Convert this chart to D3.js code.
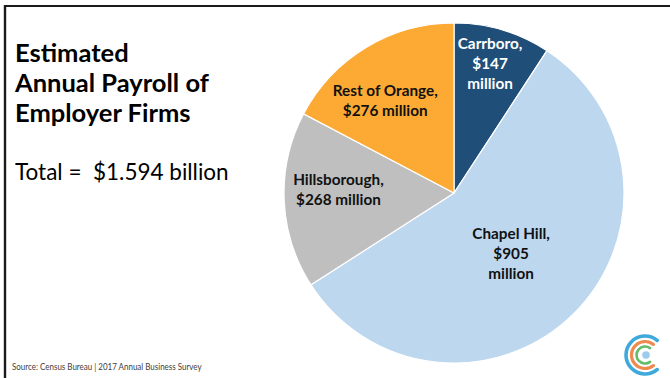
<!DOCTYPE html>
<html>
<head>
<meta charset="utf-8">
<script src="https://cdn.jsdelivr.net/npm/d3@7"></script>
<style>
  html, body { margin: 0; padding: 0; background: #fff; }
  svg { display: block; }
</style>
</head>
<body>
<svg id="chart" width="670" height="378"></svg>
<script>
// ---- data ----
const categories = ["Carrboro", "Chapel Hill", "Hillsborough", "Rest of Orange"];
const values = [147, 905, 268, 276];           // $ millions
const titleLines = ["Estimated", "Annual Payroll of", "Employer Firms"];
const totalText = "Total =\u00A0 $1.594 billion";
const sourceText = "Source: Census Bureau | 2017 Annual Business Survey";

// ---- styles / layout ----
const colors = ["#1F4E79", "#BDD7EE", "#BFBFBF", "#FCAA34"];
const labelColors = ["#ffffff", "#111111", "#111111", "#111111"];
const labelSplit = [true, true, false, false];       // value on its own lines
const labelLayout = [{r: 0.79, da: -1}, {r: 0.49, da: 1.5}, {r: 0.68, da: 4}, {r: 0.68, da: -5.4}];

const svg = d3.select("#chart");
const W = 670, H = 378;
const cx = 454, cy = 193, R = 170;
const FONT = "Lato, 'Open Sans', sans-serif";

// frame lines
svg.append("line").attr("x1", 4).attr("x2", W).attr("y1", 6).attr("y2", 6)
  .attr("stroke", "#1a1a1a").attr("stroke-width", 2.2);
svg.append("line").attr("x1", 5).attr("x2", 5).attr("y1", 5).attr("y2", H)
  .attr("stroke", "#1a1a1a").attr("stroke-width", 2.4);

function fit(sel, k) {
  sel.each(function() {
    const w = this.getComputedTextLength();
    d3.select(this).attr("textLength", w * k).attr("lengthAdjust", "spacingAndGlyphs");
  });
}

// title
svg.append("g").selectAll("text").data(titleLines).join("text")
  .attr("x", 15).attr("y", (d, i) => 62 + i * 30)
  .attr("font-family", FONT)
  .attr("font-weight", 700).attr("font-size", 25.5).attr("fill", "#000")
  .text(d => d);

svg.append("text").attr("x", 15).attr("y", 180)
  .attr("font-family", FONT)
  .attr("font-size", 22.5).attr("fill", "#000")
  .text(totalText);

// pie
const pie = d3.pie().sort(null).value(d => d.v);
const arcs = pie(categories.map((c, i) => ({c, v: values[i], i})));
const arc = d3.arc().innerRadius(0).outerRadius(R);
const g = svg.append("g").attr("transform", `translate(${cx},${cy})`);
g.selectAll("path").data(arcs).join("path")
  .attr("d", arc)
  .attr("fill", d => colors[d.data.i])
  .attr("stroke", "#fff").attr("stroke-width", 1.2);

// labels
const lineH = 20;
arcs.forEach(a => {
  const i = a.data.i;
  const L = labelLayout[i];
  const ang = (a.startAngle + a.endAngle) / 2 + L.da * Math.PI / 180;
  const r = R * L.r;
  const x = r * Math.sin(ang), y = -r * Math.cos(ang);
  const lines = labelSplit[i]
    ? [a.data.c + ",", "$" + a.data.v, "million"]
    : [a.data.c + ",", "$" + a.data.v + " million"];
  const n = lines.length;
  g.append("g").selectAll("text").data(lines).join("text")
    .attr("x", x)
    .attr("y", (d, j) => y + (j - (n - 1) / 2) * lineH + 5.5)
    .attr("text-anchor", "middle")
    .attr("font-family", FONT)
    .attr("font-weight", 700).attr("font-size", 15.3)
    .attr("fill", labelColors[i])
    .text(d => d);
});

// source
svg.append("text").attr("x", 12).attr("y", 370)
  .attr("font-family", FONT)
  .attr("font-size", 9.5).attr("fill", "#404040")
  .text(sourceText)
  .call(fit, 0.84);

// logo
const logo = svg.append("g").attr("transform", "translate(645,355)");
const logoRings = [
  {r: 19, w: 3.6, c: "#3FA9DC"},
  {r: 13.5, w: 3.2, c: "#EE8A4E"},
  {r: 8.5, w: 2.6, c: "#63BC6A"}
];
logoRings.forEach(o => {
  logo.append("path")
    .attr("d", d3.arc().innerRadius(o.r - o.w / 2).outerRadius(o.r + o.w / 2)
      .startAngle(Math.PI * 0.75).endAngle(Math.PI * 2.25)
      .cornerRadius(1.4)())
    .attr("fill", o.c);
});
logo.append("circle").attr("cx", 1).attr("cy", 0).attr("r", 3.8).attr("fill", "#9CCBEB");
</script>
</body>
</html>
